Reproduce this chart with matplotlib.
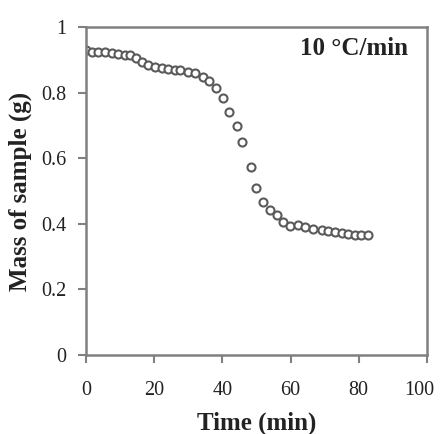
import matplotlib
matplotlib.use("Agg")
import matplotlib.pyplot as plt
from matplotlib.transforms import ScaledTranslation

# Thermogravimetric run at 10 °C/min: sample mass vs. time
time_min = [0, 1.7, 3.6, 5.6, 7.5, 9.5, 11.4, 12.9, 14.7, 16.3, 18.3, 20.2,
            22.2, 24.1, 26.1, 27.6, 30.0, 32.0, 34.4, 36.2, 38.1, 40.3, 41.9,
            44.2, 45.7, 48.3, 49.9, 52.0, 54.0, 55.9, 57.7, 59.8, 62.3, 64.2,
            66.7, 69.1, 71.1, 73.0, 75.0, 76.9, 78.9, 80.8, 82.8]
mass_g = [0.930, 0.925, 0.923, 0.923, 0.920, 0.918, 0.915, 0.913, 0.905,
          0.894, 0.884, 0.879, 0.874, 0.871, 0.869, 0.869, 0.864, 0.859,
          0.848, 0.835, 0.815, 0.783, 0.740, 0.698, 0.648, 0.574, 0.508,
          0.467, 0.442, 0.427, 0.406, 0.393, 0.396, 0.390, 0.383, 0.381,
          0.378, 0.376, 0.373, 0.369, 0.366, 0.366, 0.366]

x_ticks = [0, 20, 40, 60, 80, 100]
y_ticks = [0, 0.2, 0.4, 0.6, 0.8, 1.0]
y_tick_labels = ["0", "0.2", "0.4", "0.6", "0.8", "1"]
rate_label = "10 °C/min"

plt.rcParams["font.family"] = ["Liberation Serif", "DejaVu Serif"]

fig = plt.figure(figsize=(4.46, 4.34), dpi=100)
ax = fig.add_axes([0.193, 0.182, 0.764, 0.756])

ax.plot(time_min, mass_g, linestyle="none", marker="o", markersize=5.8,
        markerfacecolor="white", markeredgecolor="#5a5a5a",
        markeredgewidth=1.5)

ax.set_xlim(0, 100)
ax.set_ylim(0, 1)
ax.set_xticks(x_ticks)
ax.set_yticks(y_ticks)
ax.set_yticklabels(y_tick_labels)

for side in ["left", "bottom", "top", "right"]:
    ax.spines[side].set_color("#808080")
    ax.spines[side].set_linewidth(1.8)

ax.tick_params(axis="both", direction="out", length=6, width=1.5,
               color="#808080", labelsize=14.5, labelcolor="#222222", pad=8)
ax.tick_params(axis="x", pad=13)

# keep the last x tick label inside the figure edge
last_label = ax.xaxis.get_major_ticks()[-1].label1
last_label.set_transform(last_label.get_transform() +
                         ScaledTranslation(-0.08, 0, fig.dpi_scale_trans))

ax.set_xlabel("Time (min)", fontsize=18, fontweight="bold", color="#222222",
              labelpad=8)
ax.set_ylabel("Mass of sample (g)", fontsize=18, fontweight="bold",
              color="#222222")
ax.yaxis.set_label_coords(-0.16, 0.5)

ax.text(0.945, 0.97, rate_label, transform=ax.transAxes, ha="right",
        va="top", fontsize=18, fontweight="bold", color="#222222")

fig.savefig("out.png", dpi=100)
